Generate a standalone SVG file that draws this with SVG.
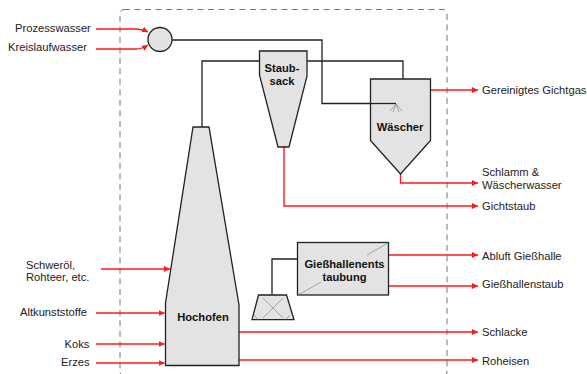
<svg xmlns="http://www.w3.org/2000/svg" width="587" height="374" viewBox="0 0 587 374">
<style>
text{font-family:"Liberation Sans",Arial,sans-serif;font-size:11.2px;fill:#222}
.b{font-weight:bold;text-anchor:middle;fill:#111}
.n{fill:#e3e3e3;stroke:#222;stroke-width:1.3}
.k{fill:none;stroke:#222;stroke-width:1.3}
.r{fill:none;stroke:#ff1a1a;stroke-width:1.4;marker-end:url(#a)}
.g{fill:none;stroke:#888;stroke-width:.7}
</style>
<defs><marker id="a" markerUnits="userSpaceOnUse" markerWidth="7" markerHeight="7" refX="6" refY="3" orient="auto"><path d="M0 0L6 3L0 6Z" fill="#ff1a1a"/></marker></defs>
<rect id="boundary" x="120" y="9.500" width="327" height="366.500" rx="4" fill="none" stroke="#777" stroke-width="1" stroke-dasharray="6 4.500"/>
<g id="connectors">
<path class="k" d="M172 40H322V103.500H396"/>
<path class="k" d="M202 127V61H259M307 61H403V79"/>
<path class="k" d="M272 295V259H297.500"/>
<path class="r" d="M96 29H136Q142 29 148 32"/>
<path class="r" d="M96 49H136Q142 49 148 45"/>
<path class="r" d="M101 269H170"/>
<path class="r" d="M96 313H164.500"/>
<path class="r" d="M96 344H164.500"/>
<path class="r" d="M96 363H164.500"/>
<path class="r" d="M431 90H478"/>
<path class="r" d="M400.500 174V183H478"/>
<path class="r" d="M284 147V206H478"/>
<path class="r" d="M389 255H478"/>
<path class="r" d="M389 286H478"/>
<path class="r" d="M239 332H478"/>
<path class="r" d="M239 360H478"/>
</g>
<g id="mischer"><circle class="n" cx="160" cy="39.500" r="12"/></g>
<g id="staubsack"><path class="n" d="M259.500 51H307V76L289 147H278L259.500 75Z"/><text class="b" x="282" y="72">Staub-</text><text class="b" x="282" y="85">sack</text></g>
<g id="waescher"><path class="n" d="M370.500 79H430.500V140.500L400.500 174L370.500 140.500Z"/><path class="k" d="M370.500 103.500H396"/><path class="g" d="M396 104L390 111M396 104L393 112M396 104L399 112M396 104L402 111"/><text class="b" x="400" y="131">Wäscher</text></g>
<g id="hochofen"><path class="n" d="M193 127H209L239 305V365.500H165.500V303Z"/><text class="b" x="203" y="321">Hochofen</text></g>
<g id="filter"><path class="n" d="M258.500 295H286.500L294 319.700H252Z"/><path class="g" d="M263 298L283 318M283 298L263 318M254 315L258 319.500M290 315L286 319.500"/></g>
<g id="entstaubung"><rect class="n" x="297.500" y="242.500" width="91" height="52.500"/><path class="g" d="M388 243L367 255M298 295L321 282"/><text class="b" x="344.500" y="268">Gießhallenents</text><text class="b" x="344.500" y="281">taubung</text></g>
<g id="labels">
<text x="15" y="32">Prozesswasser</text>
<text x="8" y="51">Kreislaufwasser</text>
<text x="26" y="269">Schweröl,</text>
<text x="26" y="281">Rohteer, etc.</text>
<text x="20" y="316">Altkunststoffe</text>
<text x="64.500" y="348">Koks</text>
<text x="61" y="366">Erzes</text>
<text x="482" y="94">Gereinigtes Gichtgas</text>
<text x="482" y="176">Schlamm &amp;</text>
<text x="482" y="189">Wäscherwasser</text>
<text x="482" y="210">Gichtstaub</text>
<text x="482" y="260">Abluft Gießhalle</text>
<text x="482" y="288">Gießhallenstaub</text>
<text x="482" y="336">Schlacke</text>
<text x="482" y="365">Roheisen</text>
</g>
</svg>
